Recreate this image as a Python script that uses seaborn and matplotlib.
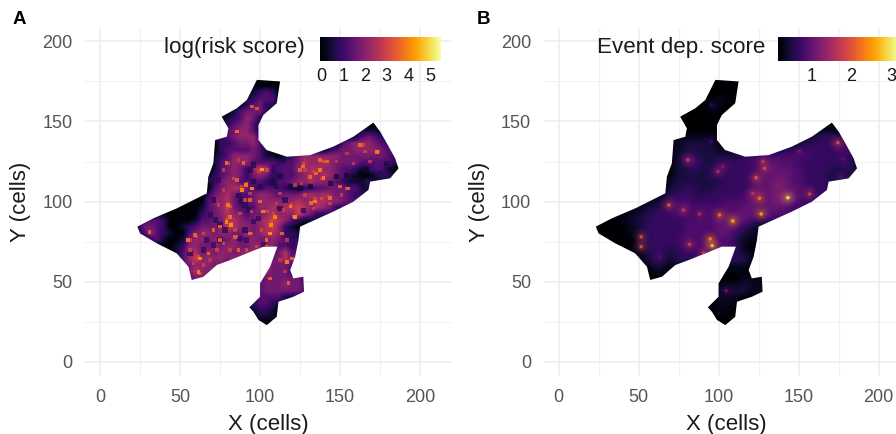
import numpy as np
import matplotlib
matplotlib.use("Agg")
import matplotlib.pyplot as plt
import seaborn as sns
from matplotlib.cm import ScalarMappable
from matplotlib.colors import Normalize
from matplotlib.patches import Polygon

# grid rows, 4 cells apart: y of the row, x of first cell, digit per cell
row_y = [176, 172, 168, 164, 160, 156, 152, 148, 144, 140, 136, 132, 128, 124, 120, 116, 112, 108, 104, 100,
         96, 92, 88, 84, 80, 76, 72, 68, 64, 60, 56, 52, 48, 44, 40, 36, 32, 28, 24]
row_start = [100, 96, 92, 92, 84, 80, 76, 76, 76, 72, 68, 68, 68, 68, 68, 68, 64, 64, 60, 52,
             44, 36, 28, 24, 24, 28, 40, 44, 48, 52, 56, 56, 100, 96, 96, 92, 92, 96, 100]

risk_rows = [
    "000", "00000", "012320", "123330", "00234220", "01344420", "01235420",
    "0234531................00", "3345531..............01110", "22345552.............0134321",
    "0022344530..........034555432", "00233334310.......023445555433",
    "0123555431101245555554444444320", "0134555333323346556544443333321", "0134542576233355665543321233100",
    "02345424542233456565432100122100", "0024553333213345565543211121", "00345664323332112233444331",
    "00245643345543444565654432", "000035564234555555655665543", "000001345743335565667656542",
    "00000002345654344565557542", "23320000133446654456765321", "14432001234445765545675210",
    "13532100345545544545665221", "023100145545445355445432", "001255445455445555332",
    "01356454554555433463", "13575555454....4464", "3455544......44443", "4654........54442",
    "34.........34444442", "34445443", "234444443", "233331", "023321", "012210", "01110", "000",
]
dep_rows = [
    "000", "00000", "000000", "001100", "00011000", "00001000", "00000000",
    "0000000................00", "0000000..............01110", "01111110.............1233321",
    "0112222110..........123333443", "01122222111.......233333333443",
    "0123322222223334444444433333321", "0123432233333444554443333333321", "0122322333333344555544333322321",
    "012222233333344555554433322322", "0122222222333345556654433332", "01223322233333455566554433",
    "01233332333333455556655443", "011234443333344445555665543", "011223344444444444555555543",
    "00112233344433444555555554", "00011223333334444455555433", "00000112333333444445554321",
    "00000112333333444445543211", "000001233333444455444211", "001233333344455544210",
    "011233223334444332110", "0123322333333333331000", "012211111111111111000", "01100000000000100000",
    "000000000000000111111", "11112111", "111222111", "011110", "001110", "001100", "00000", "000",
]
risk_unit = 0.42
dep_base = 0.17
dep_unit = 0.17

# bright spots
risk_hot_x = [101, 91, 88.5, 80, 79, 82, 107, 106, 119, 122, 62.5, 61.5, 59.4, 55, 137.5, 139.6, 127, 141.7, 134.4,
              143.8, 132, 162.5, 173, 85.4, 79, 102, 93.8, 116.7, 119.8, 106.3, 117.7, 109.4, 75, 84.4, 94.8, 125,
              150, 155, 67.7, 86.5, 100, 104, 31, 113.5, 98, 94.8, 89.6, 104, 81, 75, 70.8, 100, 93.8, 85.4, 135,
              131, 137.5]
risk_hot_y = [120, 110.3, 107, 98, 87.4, 85.3, 85.3, 80, 96.8, 90.5, 64.5, 56, 79, 76, 119.7, 114.5, 121.8, 125, 100,
              102, 98.9, 135.3, 131, 143.7, 123.9, 93.7, 80, 62.4, 64.5, 52, 48.9, 90.5, 76, 78, 108.2, 119.7,
              109.3, 108.2, 67.6, 69.7, 69.7, 71.8, 81, 80, 158.2, 159.3, 123.9, 76, 90.5, 84.3, 82.2, 100, 101,
              113.5, 117.6, 115.5, 126]
risk_hot_v = [4.2, 3.8, 4.0, 3.8, 4.0, 4.1, 4.0, 4.1, 3.8, 4.1, 4.0, 3.8, 3.5, 3.7, 3.8, 3.8, 3.6, 3.5, 3.8,
              3.6, 3.6, 3.6, 3.8, 3.6, 3.6, 3.8, 3.6, 3.8, 3.5, 3.4, 3.4, 3.9, 3.4, 3.4, 3.9, 3.4,
              3.4, 3.4, 3.5, 3.4, 3.4, 3.5, 3.4, 3.4, 3.2, 3.2, 3.5, 3.5, 3.7, 3.4, 3.4, 3.5, 3.4, 3.4, 3.6,
              3.5, 3.5]

# weaker red specks
risk_mid_x = [80.2, 86.5, 77, 83.3, 88.5, 91.7, 77, 74, 81.2, 79.2, 82.3, 84.4, 70.8, 64.6, 60.4, 56.2, 61.5, 58.3,
              64.6, 68.8, 77, 85.4, 94.8, 100, 104.2, 107.3, 106.3, 101, 94.8, 90.6, 87.5, 93.8, 104.2, 99, 112.5,
              110.4, 116.7, 73, 81.2, 91.7, 97.9, 112.5, 115.6, 56.2, 54.2, 62.5,
              127.1, 133.3, 139.6, 138.5, 128.1, 147.9, 126, 121.9, 154.2, 164.6, 174, 165.6, 154.2, 142.7, 134.4,
              128.1, 138.5, 133.3, 119.8, 114.6, 108.3, 120.8, 143.8, 151, 158.3, 168.8]
risk_mid_y = [123.9, 126, 119.7, 114.5, 109.3, 111.4, 107.2, 97.8, 96.8, 88.4, 86.4, 82.2, 82.2, 80.1, 78, 75.9, 65.5,
              61.4, 60.3, 63.4, 73.9, 78, 80.1, 99.9, 93.7, 87.4, 80.1, 82.2, 93.7, 101, 92.6, 105.1, 119.7, 118.7,
              105.1, 98.9, 76, 69.7, 69.7, 69.7, 71.8, 63.4, 56.2, 69.7, 59.3, 55.1,
              123.8, 118.6, 124.9, 114.4, 119.6, 124.9, 111.3, 110.3, 130, 135.3, 131.1, 131.1, 108.2, 103, 102,
              104, 102, 95.7, 97.8, 94.6, 92.6, 90.5, 98.8, 104, 123.8, 124.9]
risk_mid_v = [3.0, 2.8, 2.9, 3.1, 3.0, 3.2, 2.8, 3.0, 3.2, 3.3, 3.2, 3.0, 3.0, 3.0, 3.1, 2.9, 3.2, 2.9,
              3.0, 2.8, 3.1, 3.2, 3.0, 3.0, 3.1, 3.2, 3.0, 3.1, 3.0, 3.1, 3.0, 2.9, 3.1, 3.0, 2.9,
              2.9, 2.8, 3.0, 2.9, 3.1, 3.0, 2.8, 2.8, 3.0, 2.8, 3.1,
              3.2, 3.0, 3.2, 3.1, 3.0, 2.9, 2.8, 2.9, 2.8, 3.1, 3.0, 3.0, 2.9, 3.1, 3.1,
              3.0, 3.1, 3.0, 3.1, 3.0, 3.0, 3.1, 3.0, 2.9, 2.8, 2.8]

# dark veins
risk_low_x = [86.5, 88.5, 90.6, 92.7, 68.8, 71.9, 75, 78.1, 66.7, 70.8, 75, 87.5, 90.6, 95.8, 99, 112.5, 100, 95.8,
              108.3, 110.4, 95.8, 93.8, 70.8, 68.8, 74, 56.2, 64.6, 91.7, 102,
              131.3, 125, 118.8, 143.8, 147.9, 154.2, 158.3, 162.5, 166.7, 114.6, 112.5, 175, 127.1, 115.6, 179.2]
risk_low_y = [104, 101, 97.8, 94.7, 91.6, 88.4, 85.3, 82.2, 76, 72.8, 76, 77, 82.2, 87.4, 89.5, 95.7, 109.3, 112.4,
              111.4, 109.3, 122.8, 119.7, 101, 113.5, 113.5, 67.6, 69.7, 76, 72.8,
              109.2, 108.2, 109.2, 111.3, 115.5, 116.5, 115.5, 117.6, 119.7, 125.9, 115.5, 117.6, 94.6, 100.9, 123.8]
risk_low_v = [0.7, 0.7, 0.7, 0.8, 0.8, 0.8, 0.8, 0.8, 0.9, 0.9, 0.9, 0.9, 0.8, 0.9, 0.9, 0.7, 0.7, 0.6,
              0.6, 0.6, 0.7, 0.7, 0.8, 0.8, 0.8, 0.9, 0.9, 0.9, 0.9,
              0.4, 0.4, 0.5, 0.5, 0.4, 0.3, 0.3, 0.2, 0.3, 0.5, 0.5, 0.7, 0.8, 0.7, 0.6]

dep_hot_x = [80.8, 102.7, 99.6, 95.4, 95.4, 127.7, 128.7, 123.5, 121.4, 125.6, 143.3, 156.9, 174.6, 150.6, 177.7,
             176.6, 68.9, 78.1, 88.1, 100.6, 108.9, 126.6, 51.6, 51.6, 81.8, 94.8, 96, 90.6, 63.1, 104.8]
dep_hot_y = [126, 121.8, 118.7, 160.3, 137.4, 124.9, 120.7, 114.9, 105.1, 102, 102.4, 104.7, 136.8, 131.2, 126.4,
             115.5, 97.8, 94.7, 92.2, 91.6, 87.8, 92.2, 78, 71.8, 73.2, 76.6, 72.4, 68, 65.5, 44.3]
dep_hot_v = [1.7, 1.2, 1.5, 0.6, 0.7, 1.7, 1.9, 2.0, 1.6, 2.2, 2.9, 1.8, 1.9, 1.1, 0.9,
             0.9, 2.0, 1.7, 1.5, 2.2, 2.6, 2.5, 1.9, 1.9, 1.8, 2.3, 2.7, 1.7, 0.9, 1.0]

# outline of the area
edge_x = [98, 112.5, 110.4, 102, 99, 99, 104, 116.7, 131.3, 145.8, 158.3, 170.8, 175, 179.2, 184.4, 186.5, 181.3,
          168.8, 167.7, 158.3, 145.8, 125, 124, 121.9, 118.8, 120.8, 127, 127.5, 120.8, 111.5, 110.4, 104.2, 99,
          95.8, 93.3, 100, 100, 106.3, 110.8, 102, 81.3, 72.9, 64.6, 57.3, 55.2, 47.9, 43.8, 35.4, 25, 23.3, 33.3,
          47.9, 66.7, 67.7, 70.8, 71.9, 79.2, 80.2, 76, 85.4, 91.7]
edge_y = [176, 175, 161.4, 154, 147.8, 138.4, 132.2, 128, 129, 134.3, 140.5, 149.3, 143.7, 136.4, 127, 120.7, 114.5,
          112.4, 107.2, 99.9, 93.7, 84.3, 76, 65.5, 57.2, 52, 53, 43.7, 40.5, 37.4, 28, 22.8, 26,
          31.2, 33.9, 40.5, 48.9, 59.3, 71.8, 71.8, 63.4, 60.3, 53, 51, 59.3, 67.6, 69.7, 73.9, 80.1, 84.3, 89.5,
          95.7, 105.1, 115.5, 123.9, 138.4, 140.5, 145.7, 153, 158.2, 163.4]

ticks = [0, 50, 100, 150, 200]
minor_ticks = [25, 75, 125, 175]

sns.set_theme(style="whitegrid")
plt.rcParams["font.family"] = ["Liberation Sans", "DejaVu Sans"]

W, H = 896, 434
fig = plt.figure(figsize=(W / 100, H / 100), dpi=100)
inferno = sns.color_palette("inferno", as_cmap=True)


def box(left, top, right, bottom):
    return [left / W, 1 - bottom / H, (right - left) / W, (bottom - top) / H]


def make_axes(left):
    ax = fig.add_axes(box(left, 28, left + 366, 376))
    ax.set_xticks(ticks)
    ax.set_yticks(ticks)
    ax.set_xticks(minor_ticks, minor=True)
    ax.set_yticks(minor_ticks, minor=True)
    ax.grid(True, which="major", color="#ededed", lw=1.1)
    ax.grid(True, which="minor", color="#f2f2f2", lw=0.8)
    ax.tick_params(which="both", length=0)
    ax.tick_params(axis="y", labelsize=13, labelcolor="#555555", pad=9)
    ax.tick_params(axis="x", labelsize=13, labelcolor="#555555", pad=9)
    for s in ax.spines.values():
        s.set_visible(False)
    ax.set_axisbelow(True)
    return ax


def finish_axes(ax):
    ax.set_xlim(-9.4, 219.3)
    ax.set_ylim(-9, 208.4)
    ax.set_xlabel("X (cells)", fontsize=16, color="#1a1a1a", labelpad=6)
    ax.set_ylabel("Y (cells)", fontsize=16, color="#1a1a1a", labelpad=8)


def read_grid(rows):
    # cells outside the outline take the nearest value of their row, the clip hides them
    grid = np.zeros((39, 42))
    for y, start, row in zip(row_y, row_start, rows):
        vals = []
        for ch in row:
            vals.append(vals[-1] if ch == "." else int(ch))
        first = (start - 24) // 4
        line = [vals[0]] * first + vals + [vals[-1]] * 42
        grid[(y - 24) // 4] = line[:42]
    return grid


def clip_all(ax):
    shape = Polygon(np.column_stack([edge_x, edge_y]), transform=ax.transData)
    for art in list(ax.collections) + list(ax.images):
        art.set_clip_path(shape)


def legend_bar(ax_left, ax_right, title_right, norm, bar_ticks, title):
    cax = fig.add_axes(box(ax_left, 37, ax_right, 61))
    cb = fig.colorbar(ScalarMappable(norm=norm, cmap=inferno), cax=cax, orientation="horizontal")
    cb.outline.set_visible(False)
    cb.set_ticks(bar_ticks)
    cax.tick_params(axis="x", direction="in", color="white", length=4.5, width=0.7,
                    top=True, bottom=True, labelsize=13, labelcolor="#1a1a1a", pad=5)
    fig.text(title_right / W, 1 - 48 / H, title, ha="right", va="center", fontsize=16.1, color="#1a1a1a")


# panel A
ax_a = make_axes(85)
risk_norm = Normalize(-0.08, 5.5)
ax_a.imshow(read_grid(risk_rows) * risk_unit, cmap=inferno, norm=risk_norm, origin="lower",
            extent=(22, 190, 22, 178), aspect="auto", interpolation="bilinear", zorder=2)
sns.scatterplot(x=risk_low_x, y=risk_low_y, hue=risk_low_v, palette="inferno", hue_norm=risk_norm,
                marker="s", s=14, alpha=0.8, linewidth=0, legend=False, ax=ax_a, zorder=3)
sns.scatterplot(x=risk_mid_x, y=risk_mid_y, hue=risk_mid_v, palette="inferno", hue_norm=risk_norm,
                marker="s", s=6, alpha=0.85, linewidth=0, legend=False, ax=ax_a, zorder=4)
sns.scatterplot(x=risk_hot_x, y=risk_hot_y, hue=risk_hot_v, palette="inferno", hue_norm=risk_norm,
                marker="s", s=7, linewidth=0, legend=False, ax=ax_a, zorder=5)
clip_all(ax_a)
finish_axes(ax_a)
legend_bar(320, 441, 305, risk_norm, [0, 1, 2, 3, 4, 5], "log(risk score)")

# panel B
ax_b = make_axes(543.5)
dep_norm = Normalize(0.17, 3.2)
ax_b.imshow(dep_base + read_grid(dep_rows) * dep_unit, cmap=inferno, norm=dep_norm, origin="lower",
            extent=(22, 190, 22, 178), aspect="auto", interpolation="bicubic", zorder=2)
for size, alpha in [(170, 0.05), (100, 0.07), (55, 0.1), (25, 0.16), (6, 1.0)]:
    sns.scatterplot(x=dep_hot_x, y=dep_hot_y, hue=dep_hot_v, palette="inferno", hue_norm=dep_norm,
                    marker="o", s=size, alpha=alpha, linewidth=0, legend=False, ax=ax_b, zorder=3)
clip_all(ax_b)
finish_axes(ax_b)
legend_bar(778, 899, 765, dep_norm, [1, 2, 3], "Event dep. score")

fig.text(13 / W, 1 - 20 / H, "A", fontsize=13.5, fontweight="bold", color="black", va="center")
fig.text(477 / W, 1 - 20 / H, "B", fontsize=13.5, fontweight="bold", color="black", va="center")

fig.savefig("out.png", dpi=100)
